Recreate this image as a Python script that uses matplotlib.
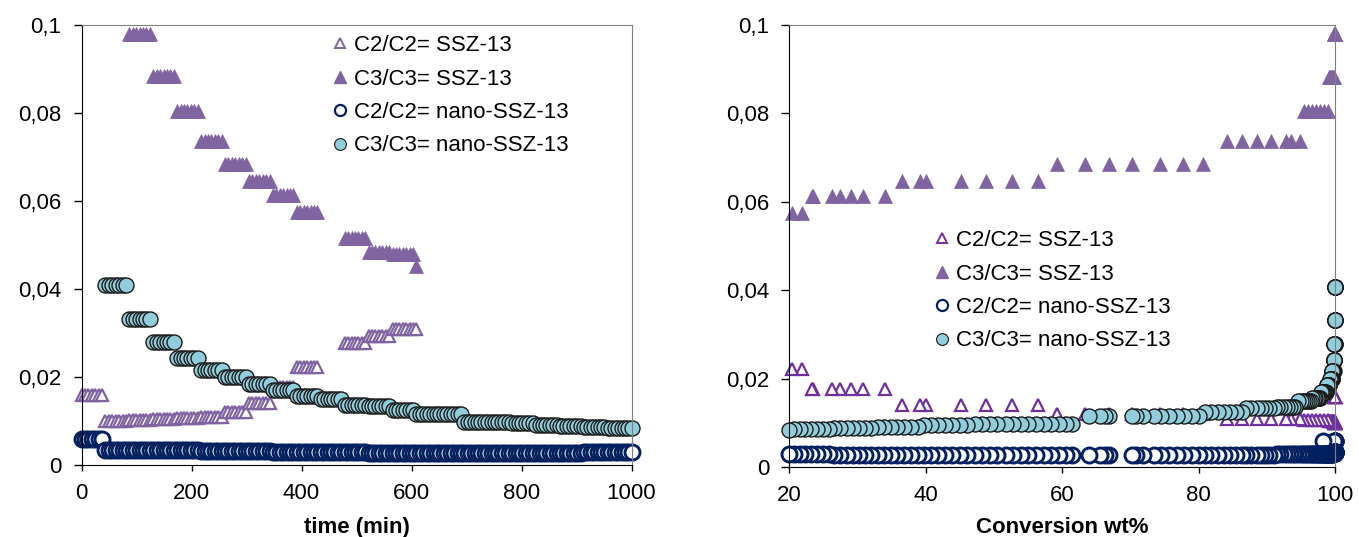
import numpy as np
import matplotlib.pyplot as plt
from matplotlib.lines import Line2D

plt.rcParams['font.family'] = ['Liberation Sans', 'DejaVu Sans']
plt.rcParams['font.size'] = 16

# GC analysis every ~43.5 min, 7 logged points per analysis
group_start = [0, 43.5, 87, 130.5, 174, 217.5, 261, 304.5, 348, 391.5, 435, 478.5,
               522, 565.5, 609, 652.5, 696, 739.5, 783, 826.5, 870, 913.5, 957, 1000]
point_offset = [0, 6.2, 12.4, 18.6, 24.9, 31.1, 37.3]
ssz_count = [7, 7, 7, 7, 7, 7, 7, 7, 7, 7, 7, 7, 7, 7, 1]
nano_count = [7, 7, 7, 7, 7, 7, 7, 7, 7, 7, 7, 7, 7, 7, 7, 7, 7, 7, 7, 7, 7, 7, 7, 1]

# ratio per analysis (None = off scale / missing)
c2_ssz = [0.0158, 0.0101, 0.0103, 0.0105, 0.0107, 0.0110, 0.0120, 0.0141, 0.0178, 0.0222,
          None, 0.0277, 0.0294, 0.0308, 0.0308]
c3_ssz = [None, None, 0.0980, 0.0883, 0.0805, 0.0737, 0.0685, 0.0646, 0.0613, 0.0574,
          None, 0.0516, 0.0484, 0.0480, 0.0452]
c2_nano = [0.0060, 0.0034, 0.0034, 0.0033, 0.0033, 0.0032, 0.0031, 0.0031, 0.0030, 0.0030,
           0.0029, 0.0029, 0.0028, 0.0028, 0.0027, 0.0027, 0.0027, 0.0027, 0.0028, 0.0028,
           0.0028, 0.0029, 0.0029, 0.0030]
c3_nano = [None, 0.0408, 0.0332, 0.0279, 0.0243, 0.0217, 0.0200, 0.0185, 0.0171, 0.0156,
           0.0150, 0.0137, 0.0134, 0.0124, 0.0117, 0.0116, 0.0098, 0.0097, 0.0095, 0.0090,
           0.0088, 0.0086, 0.0085, 0.0085]

# conversion (wt%) of each logged point, only the ones >= 20 are shown
ssz_conv = [
    [100, 100, 100, 100, 100, 100, 100],
    [100, 100, 100, 100, 100, 100, 100],
    [100, 100, 100, 100, 100, 99.9, 99.9],
    [99.8, 99.7, 99.6, 99.5, 99.4, 99.3, 99.2],
    [99.0, 98.4, 97.8, 97.2, 96.6, 96.0, 95.5],
    [94.9, 93.6, 92.8, 90.6, 88.5, 86.4, 84.2],
    [80.7, 77.7, 74.3, 70.3, 66.9, 63.3, 59.3],
    [56.5, 52.6, 48.8, 45.2, 40.1, 39.2, 36.5],
    [34.0, 30.8, 29.1, 27.4, 26.3, 23.5, 23.3],
    [21.8, 20.4],
    [], [], [], [], [],
]
nano_conv = [
    [100, 100, 100, 100, 100, 99.9, 98.3],
    [100, 100, 100, 100, 100, 100, 100],
    [100, 100, 100, 100, 100, 100, 100],
    [100, 100, 100, 99.9, 99.9, 99.9, 99.9],
    [99.9, 99.9, 99.9, 99.8, 99.8, 99.8, 99.8],
    [99.8, 99.7, 99.7, 99.7, 99.6, 99.6, 99.6],
    [99.5, 99.5, 99.5, 99.4, 99.4, 99.3, 99.3],
    [99.2, 99.2, 99.1, 99.0, 98.9, 98.9, 98.8],
    [98.7, 98.6, 98.5, 98.4, 98.2, 98.1, 97.9],
    [97.8, 97.7, 97.5, 97.3, 97.1, 96.9, 96.7],
    [96.5, 96.2, 95.9, 95.6, 95.3, 95.0, 94.6],
    [94.2, 93.8, 93.4, 93.0, 92.5, 92.0, 91.5],
    [91.0, 90.4, 89.8, 89.2, 88.5, 87.7, 87.0],
    [86.3, 85.5, 84.6, 83.8, 82.9, 81.9, 80.9],
    [80.0, 79.0, 77.9, 76.8, 75.7, 74.5, 73.4],
    [71.9, 70.9, 70.3, 66.8, 66.3, 65.6, 64.0],
    [61.5, 60.6, 59.5, 58.4, 57.3, 56.2, 55.0],
    [53.9, 52.8, 51.7, 50.5, 49.4, 48.3, 47.2],
    [46.1, 45.0, 43.9, 42.9, 41.8, 40.8, 39.8],
    [38.8, 37.8, 36.8, 35.8, 34.9, 33.9, 33.0],
    [32.0, 31.1, 30.2, 29.3, 28.4, 27.5, 26.6],
    [25.8, 24.9, 24.0, 23.2, 22.3, 21.5, 20.7],
    [20.0],
    [],
]

labels = ['C2/C2= SSZ-13', 'C3/C3= SSZ-13', 'C2/C2= nano-SSZ-13', 'C3/C3= nano-SSZ-13']


def by_time(values, counts):
    t, v = [], []
    for start, n, val in zip(group_start, counts, values):
        if val is None:
            continue
        for off in point_offset[:n]:
            t.append(start + off)
            v.append(val)
    return t, v


def by_conv(values, conv):
    x, v = [], []
    for cs, val in zip(conv, values):
        if val is None:
            continue
        for c in cs:
            x.append(c)
            v.append(val)
    return x, v


lav = '#8064A2'
violet = '#7030A0'
navy = '#002060'
aqua = '#92CDDC'

fig = plt.figure(figsize=(13.59, 5.37), dpi=100)
ax1 = fig.add_axes([0.0600, 0.1341, 0.4047, 0.8194])
ax2 = fig.add_axes([0.5808, 0.1298, 0.4015, 0.8240])

styles = [
    dict(marker='^', ms=8.5, mfc='white', mew=1.6),
    dict(marker='^', ms=10, mew=0.5),
    dict(marker='o', ms=10.8, mfc='white', mec=navy, mew=2.1),
    dict(marker='o', ms=10.8, mfc=aqua, mec='#1a1a1a', mew=1.0),
]

# left: ratio vs time
t, v = by_time(c2_ssz, ssz_count)
ax1.plot(t, v, ls='none', mec=lav, clip_on=False, **styles[0])
t, v = by_time(c3_ssz, ssz_count)
ax1.plot(t, v, ls='none', color=lav, clip_on=False, **styles[1])
t, v = by_time(c2_nano, nano_count)
ax1.plot(t, v, ls='none', clip_on=False, **styles[2])
t, v = by_time(c3_nano, nano_count)
ax1.plot(t, v, ls='none', clip_on=False, **styles[3])

# right: ratio vs conversion
x, v = by_conv(c2_ssz, ssz_conv)
ax2.plot(x, v, ls='none', mec=violet, clip_on=False, **styles[0])
x, v = by_conv(c3_ssz, ssz_conv)
ax2.plot(x, v, ls='none', color=lav, clip_on=False, **styles[1])
x, v = by_conv(c2_nano, nano_conv)
ax2.plot(x, v, ls='none', clip_on=False, **styles[2])
x, v = by_conv(c3_nano, nano_conv)
ax2.plot(x, v, ls='none', clip_on=False, **styles[3])

ax1.set_xlim(0, 1000)
ax1.set_xticks([0, 200, 400, 600, 800, 1000])
ax1.set_xlabel('time (min)', fontweight='bold', labelpad=9)
ax2.set_xlim(20, 100)
ax2.set_xticks([20, 40, 60, 80, 100])
ax2.set_xlabel('Conversion wt%', fontweight='bold', labelpad=8)

for ax, c2col in [(ax1, lav), (ax2, violet)]:
    ax.set_ylim(0, 0.1)
    ax.set_yticks([0, 0.02, 0.04, 0.06, 0.08, 0.1])
    ax.set_yticklabels(['0', '0,02', '0,04', '0,06', '0,08', '0,1'])
    ax.tick_params(axis='y', direction='out', length=5.5, width=1, pad=9)
    ax.tick_params(axis='x', direction='out', length=4, width=1, pad=9)
    ax.spines['left'].set_color('black')
    ax.spines['bottom'].set_color('black')
    ax.spines['top'].set_color('#808080')
    ax.spines['right'].set_color('#808080')
    handles = [
        Line2D([], [], ls='none', marker='^', ms=7, mfc='white', mec=c2col, mew=1.4),
        Line2D([], [], ls='none', marker='^', ms=8, color=lav),
        Line2D([], [], ls='none', marker='o', ms=8, mfc='white', mec=navy, mew=1.6),
        Line2D([], [], ls='none', marker='o', ms=8.5, mfc=aqua, mec='#1a1a1a', mew=0.8),
    ]
    ax.handles_ = handles

ax1.legend(ax1.handles_, labels, loc='upper left', bbox_to_anchor=(0.453, 0.977),
           frameon=False, borderpad=0, handlelength=0.8, handletextpad=0.25,
           labelspacing=0.56, borderaxespad=0)
ax2.legend(ax2.handles_, labels, loc='upper left', bbox_to_anchor=(0.263, 0.536),
           frameon=False, borderpad=0, handlelength=0.8, handletextpad=0.25,
           labelspacing=0.56, borderaxespad=0)

fig.savefig('out.png', dpi=100)
